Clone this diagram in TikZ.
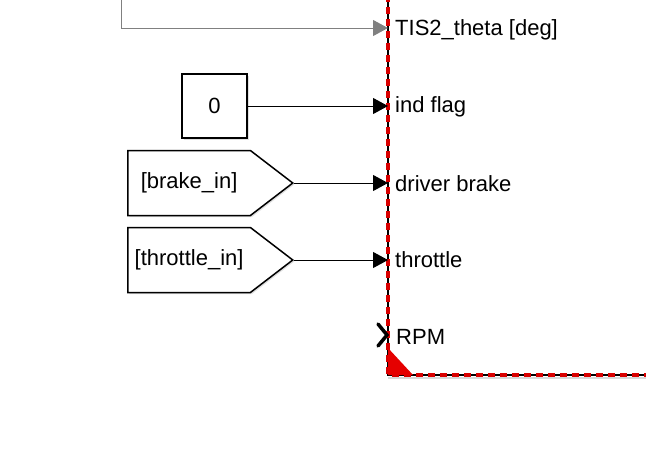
\documentclass[tikz,border=0pt]{standalone}
\usepackage{fontspec}
\setmainfont{Liberation Sans}
\usetikzlibrary{shapes.symbols,arrows.meta,shadows}

\begin{document}
\begin{tikzpicture}[x=1pt,y=-1pt,
        every node/.style={font=\fontsize{22}{24}\selectfont},
        blk/.style={draw=black,fill=white,line width=1.5pt,
            drop shadow={shadow xshift=1.5pt,shadow yshift=-1.5pt,opacity=.25}},
        portlbl/.style={anchor=west,inner sep=0pt},
        sig/.style={line width=1pt,-{Triangle[length=15pt,width=16pt]}}]
        \useasboundingbox (0,0) rectangle (646,450);
        \clip (0,0) rectangle (646,450);

        % subsystem edge
        \draw[black!15,line width=2pt] (388,378) -- (650,378);
        \draw[black,line width=1.5pt] (388,-5) -- (388,375) -- (650,375);
        \draw[red!85!black,line width=3.5pt,dash pattern=on 7pt off 5pt] (388,-5) -- (388,375) -- (650,375);
        \fill[red!90!black] (388,348) -- (388,375) -- (413,375) -- cycle;

        % ports
        \coordinate (inTheta) at (388,28);
        \coordinate (inFlag) at (388,106);
        \coordinate (inBrake) at (388,183);
        \coordinate (inThrottle) at (388,260);
        \coordinate (inRPM) at (388,335);
        \coordinate (thetaSrc) at (121,-5);

        \node[portlbl] (lblTheta) at (395,30) {TIS2\_theta [deg]};
        \node[portlbl] (lblFlag) at (395,107) {ind flag};
        \node[portlbl] (lblBrake) at (395,184) {driver brake};
        \node[portlbl] (lblThrottle) at (395,260) {throttle};
        \node[portlbl] (lblRPM) at (396,337) {RPM};

        % blocks
        \node[blk,minimum width=65,minimum height=64] (zero) at (214.5,106) {0};
        \node[blk,signal,signal to=east,signal pointer angle=75,minimum height=65,
            minimum width=165,anchor=west] (brakeIn) at (127,183) {[brake\_in]};
        \node[blk,signal,signal to=east,signal pointer angle=75,minimum height=65,
            minimum width=165,anchor=west] (throttleIn) at (127,260) {[throttle\_in]};

        % signals
        \draw[gray,line width=1pt,-{Triangle[length=15pt,width=16pt]}] (thetaSrc) |- (inTheta);
        \draw[sig] (zero.east) -- (inFlag);
        \draw[sig] (brakeIn.east) -- (inBrake);
        \draw[sig] (throttleIn.east) -- (inThrottle);
        \draw[line width=3.5pt,line cap=round,line join=miter] ([xshift=-10pt,yshift=-11pt]inRPM) -- ([xshift=-1pt]inRPM) -- ([xshift=-10pt,yshift=11pt]inRPM);
    \end{tikzpicture}
\end{document}
